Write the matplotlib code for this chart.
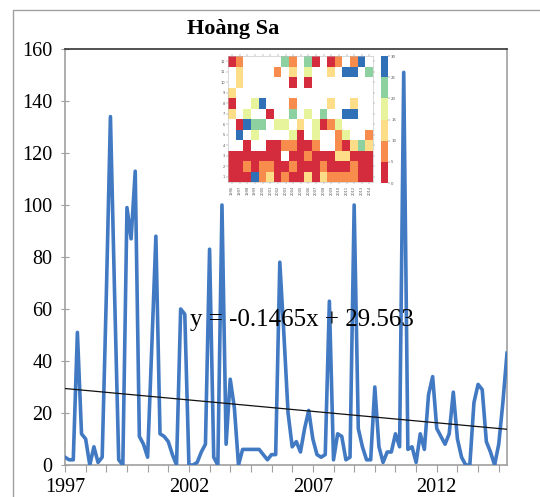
import numpy as np
import matplotlib
matplotlib.use('Agg')
import matplotlib.pyplot as plt
from matplotlib.colors import ListedColormap, BoundaryNorm
from matplotlib.lines import Line2D

# ---- main series (108 points) ----
values = [3, 2, 2, 51, 12, 10, 0, 7, 1, 3,
          65, 134, 66, 2, 0, 99, 87, 113, 11, 8,
          3, 45, 88, 12, 11, 9, 4, 0, 60, 58,
          0, 0, 1, 5, 8, 83, 3, 0, 100, 8,
          33, 22, 0, 6, 6, 6, 6, 6, 4, 2,
          4, 4, 78, 50, 20, 7, 9, 5, 14, 21,
          10, 4, 3, 4, 63, 2, 12, 11, 2, 3,
          100, 14, 7, 2, 2, 30, 7, 1, 5, 5,
          12, 7, 151, 6, 7, 1, 12, 6, 27, 34,
          14, 11, 8, 12, 28, 10, 3, 0, 0, 24,
          31, 29, 9, 5, 0, 8, 24, 43]
year_labels = ['1997', '2002', '2007', '2012']
year_label_pos = [1, 31, 61, 91]
trend_slope = -0.1465
trend_intercept = 29.563
equation = 'y = -0.1465x + 29.563'
title = 'Hoàng Sa'

# ---- inset heatmap (months 1..12 x 19 years) ----
N = np.nan
R, O, Y, L, G, B = 2.5, 7.5, 12.5, 17.5, 22.5, 27.5
heat_years = [str(y) for y in range(1996, 2015)]
heat_months = list(range(1, 13))
heat_rows = [
    [R, R, R, B, O, Y, R, O, R, R, Y, R, Y, O, O, O, O, R, R],   # 1
    [R, R, O, R, O, O, R, R, O, R, R, R, O, R, R, R, O, R, R],   # 2
    [R, R, R, R, R, R, R, N, R, R, O, R, R, R, Y, Y, R, R, R],   # 3
    [N, N, R, N, N, R, R, O, O, R, R, O, N, N, O, R, Y, G, Y],   # 4
    [N, B, N, L, N, N, N, N, L, R, N, L, N, N, O, L, N, N, O],   # 5
    [N, R, B, G, G, N, L, L, N, Y, N, L, R, O, L, N, N, N, N],   # 6
    [Y, N, L, N, N, R, N, N, G, N, L, N, G, N, N, B, B, N, N],   # 7
    [R, N, N, L, B, N, N, N, O, N, N, N, N, Y, N, N, Y, N, N],   # 8
    [Y, N, N, N, N, N, N, N, N, N, N, N, N, N, N, N, N, N, N],   # 9
    [N, Y, N, N, N, N, N, N, R, N, R, N, N, N, N, N, N, N, N],   # 10
    [N, Y, N, N, N, N, O, N, Y, N, L, N, N, Y, N, B, B, N, G],   # 11
    [R, O, N, N, N, N, N, G, O, N, G, R, N, R, O, N, O, B, N],   # 12
]
level_bounds = [0, 5, 10, 15, 20, 25, 30]
level_colors = ['#d42c3d', '#f78c4c', '#fddd87', '#e8f49c', '#8dd1a0', '#2f70b7']

serif = ['Liberation Serif', 'DejaVu Serif']

W, H = 540, 497
fig = plt.figure(figsize=(W / 100, H / 100), dpi=100)

def fx(px):
    return px / W

def fy(py):
    return 1 - py / H

# outer frame
fig.add_artist(Line2D([fx(13), fx(13), 1.0], [0.0, fy(10), fy(10)],
                      transform=fig.transFigure, color='#a0a0a0', lw=1.0))

# main axes
L0, R0, T0, B0 = 65, 507, 49, 465
ax = fig.add_axes([fx(L0), fy(B0), fx(R0 - L0), (B0 - T0) / H])
x = np.arange(1, len(values) + 1)
ax.plot(x, values, color='#4179c2', lw=2.6, solid_joinstyle='round', zorder=3)
tx = np.array([x[0], x[-1]])
ax.plot(tx, trend_slope * tx + trend_intercept, color='#111111', lw=0.9, zorder=4)
ax.set_xlim(1, len(values))
ax.set_ylim(0, 160)

ax.set_yticks(np.arange(0, 161, 20))
ax.set_yticklabels([str(v) for v in range(0, 161, 20)], fontfamily=serif, fontsize=14.5)
ticks = np.arange(1, len(values) + 1, 5)
ax.set_xticks(ticks)
lab = []
for t in ticks:
    lab.append(year_labels[year_label_pos.index(t)] if t in year_label_pos else '')
ax.set_xticklabels(lab, fontfamily=serif, fontsize=14.5)
ax.tick_params(axis='y', direction='inout', length=6, color='#a0a0a0', pad=6)
ax.tick_params(axis='x', direction='out', length=5, color='#a0a0a0', pad=4)
for s in ['left', 'bottom', 'right']:
    ax.spines[s].set_color('#a0a0a0')
    ax.spines[s].set_linewidth(1.2)
ax.spines['top'].set_color('#333333')
ax.spines['top'].set_linewidth(1.2)

ax.text(31.3, 55.8, equation, fontfamily=serif, fontsize=18, va='center', ha='left', zorder=5)

fig.text(fx(233), fy(29), title, fontfamily=serif, fontsize=16, fontweight='bold',
         ha='center', va='center')

# inset heatmap
hl, hr, ht, hb = 228.3, 373.3, 56, 182
hax = fig.add_axes([fx(hl), fy(hb), fx(hr - hl), (hb - ht) / H])
cmap = ListedColormap(level_colors)
norm = BoundaryNorm(level_bounds, cmap.N)
data = np.array(heat_rows, dtype=float)
im = hax.imshow(np.ma.masked_invalid(data), cmap=cmap, norm=norm, aspect='auto',
                origin='lower', interpolation='nearest',
                extent=[-0.5, len(heat_years) - 0.5, 0.5, 12.5])
hax.set_facecolor('white')
hax.set_xticks(range(len(heat_years)))
hax.set_xticklabels(heat_years, rotation=90, fontsize=2.6, color='#555555')
hax.set_yticks(heat_months)
hax.set_yticklabels([str(m) for m in heat_months], fontsize=2.6, color='#555555')
hax.tick_params(length=1.5, width=0.3, pad=1, top=True, right=True, color='#777777')
for s in hax.spines.values():
    s.set_color('#bbbbbb')
    s.set_linewidth(0.4)

# colorbar
cax = fig.add_axes([fx(381), fy(183), fx(7), (183 - 56) / H])
cb = fig.colorbar(im, cax=cax, boundaries=level_bounds, ticks=level_bounds)
cb.ax.tick_params(labelsize=2.8, length=1.2, width=0.3, pad=1, colors='#555555')
cb.outline.set_linewidth(0.0)

fig.savefig('out.png', dpi=100)
